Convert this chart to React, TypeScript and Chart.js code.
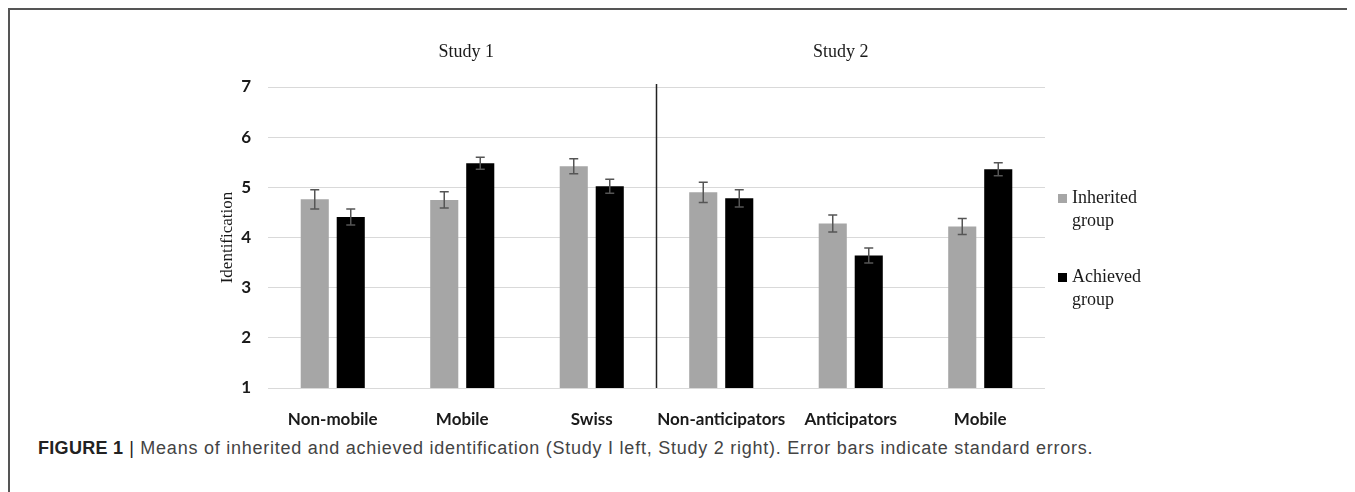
import { useEffect, useRef } from "react"
import { Chart, registerables } from "chart.js"

Chart.register(...registerables)

// Datos
const categories = ["Non-mobile", "Mobile", "Swiss", "Non-anticipators", "Anticipators", "Mobile"]
const inheritedMeans = [4.76, 4.75, 5.42, 4.9, 4.28, 4.22]
const inheritedErrors = [0.19, 0.16, 0.15, 0.2, 0.17, 0.16]
const achievedMeans = [4.41, 5.48, 5.02, 4.78, 3.64, 5.36]
const achievedErrors = [0.16, 0.12, 0.14, 0.17, 0.15, 0.13]
const studyTitles = ["Study 1", "Study 2"]
const seriesLabels = [["Inherited", "group"], ["Achieved", "group"]]
const seriesColors = ["#a6a6a6", "#000000"]
const yMin = 1
const yMax = 7

const serif = '"Liberation Serif", "Times New Roman", serif'
const tickFont = 'Lato, "Liberation Sans", Arial, sans-serif'

// Plugin para barras de error, línea divisoria, títulos y leyenda
const extrasPlugin = {
  id: "extras",
  afterDatasetsDraw(chart: any) {
    const { ctx, chartArea, scales } = chart
    const x = scales.x
    const y = scales.y
    const errors = [inheritedErrors, achievedErrors]

    ctx.save()
    ctx.strokeStyle = "#555555"
    ctx.lineWidth = 1.5
    chart.data.datasets.forEach((ds: any, di: number) => {
      const meta = chart.getDatasetMeta(di)
      meta.data.forEach((bar: any, i: number) => {
        const v = ds.data[i]
        const e = errors[di][i]
        const top = y.getPixelForValue(v + e)
        const bot = y.getPixelForValue(v - e)
        ctx.beginPath()
        ctx.moveTo(bar.x, top)
        ctx.lineTo(bar.x, bot)
        ctx.moveTo(bar.x - 4.5, top)
        ctx.lineTo(bar.x + 4.5, top)
        ctx.moveTo(bar.x - 4.5, bot)
        ctx.lineTo(bar.x + 4.5, bot)
        ctx.stroke()
      })
    })

    // línea entre los dos estudios
    const xd = (x.getPixelForTick(2) + x.getPixelForTick(3)) / 2
    ctx.strokeStyle = "#222222"
    ctx.lineWidth = 1.5
    ctx.beginPath()
    ctx.moveTo(xd, chartArea.top - 3)
    ctx.lineTo(xd, chartArea.bottom)
    ctx.stroke()

    // títulos de los estudios
    ctx.fillStyle = "#1a1a1a"
    ctx.font = `18px ${serif}`
    ctx.textAlign = "center"
    ctx.textBaseline = "middle"
    ctx.fillText(studyTitles[0], (chartArea.left + xd) / 2 + 4, chartArea.top - 35)
    ctx.fillText(studyTitles[1], (xd + chartArea.right) / 2 - 10, chartArea.top - 35)

    // título del eje Y
    ctx.save()
    ctx.translate(chartArea.left - 40, (chartArea.top + chartArea.bottom) / 2)
    ctx.rotate(-Math.PI / 2)
    ctx.font = `17px ${serif}`
    ctx.fillText("Identification", 0, 0)
    ctx.restore()

    // leyenda
    ctx.textAlign = "left"
    ctx.font = `18px ${serif}`
    const legendTops = [chartArea.top + 111, chartArea.top + 190]
    seriesLabels.forEach((lines, i) => {
      const ly = legendTops[i]
      ctx.fillStyle = seriesColors[i]
      ctx.fillRect(chartArea.right + 13, ly - 4, 9, 9)
      ctx.fillStyle = "#1a1a1a"
      lines.forEach((t, j) => ctx.fillText(t, chartArea.right + 27, ly + j * 23))
    })
    ctx.restore()
  },
}

function BarChart() {
  const chartRef = useRef<HTMLCanvasElement>(null)
  const chartInstance = useRef<Chart | null>(null)

  useEffect(() => {
    if (!chartRef.current) return
    if (chartInstance.current) {
      chartInstance.current.destroy()
    }
    const ctx = chartRef.current.getContext("2d")
    if (!ctx) return

    chartInstance.current = new Chart(ctx, {
      type: "bar",
      data: {
        labels: categories,
        datasets: [
          {
            label: "Inherited group",
            data: inheritedMeans,
            backgroundColor: seriesColors[0],
            categoryPercentage: 0.556,
            barPercentage: 0.78,
          },
          {
            label: "Achieved group",
            data: achievedMeans,
            backgroundColor: seriesColors[1],
            categoryPercentage: 0.556,
            barPercentage: 0.78,
          },
        ],
      },
      options: {
        animation: false,
        responsive: true,
        maintainAspectRatio: false,
        layout: { padding: { top: 79, right: 310, left: 0, bottom: 0 } },
        scales: {
          x: {
            grid: { display: false },
            border: { display: false },
            ticks: {
              color: "#1a1a1a",
              padding: 13,
              autoSkip: false,
              maxRotation: 0,
              minRotation: 0,
              font: { family: tickFont, size: 17, weight: "bold" },
            },
            afterFit: (scale: any) => {
              scale.height = 40
            },
          },
          y: {
            min: yMin,
            max: yMax,
            grid: { color: "#d9d9d9", lineWidth: 1, drawTicks: false },
            border: { display: false },
            ticks: {
              stepSize: 1,
              color: "#1a1a1a",
              padding: 17,
              font: { family: tickFont, size: 17, weight: "bold" },
            },
            afterFit: (scale: any) => {
              scale.width = 260
            },
          },
        },
        plugins: {
          legend: { display: false },
          tooltip: { enabled: false },
        },
      },
      plugins: [extrasPlugin],
    })

    return () => {
      if (chartInstance.current) {
        chartInstance.current.destroy()
        chartInstance.current = null
      }
    }
  }, [])

  return <canvas ref={chartRef} />
}

export default function App() {
  return (
    <div style={{ position: "relative", width: 1347, height: 484, background: "#fff" }}>
      <div style={{ position: "absolute", left: 0, top: 0, width: 1347, height: 1.5, background: "#555" }} />
      <div style={{ position: "absolute", left: 0, top: 0, width: 1.5, height: 484, background: "#555" }} />
      <div style={{ position: "absolute", left: 0, top: 0, width: 1347, height: 420 }}>
        <BarChart />
      </div>
      <div
        style={{
          position: "absolute",
          left: 30,
          top: 430,
          fontFamily: '"Liberation Sans", Arial, sans-serif',
          fontSize: 18,
          letterSpacing: 0.75,
          color: "#444",
          whiteSpace: "nowrap",
        }}
      >
        <span style={{ fontWeight: "bold", color: "#222", letterSpacing: 0.3 }}>FIGURE 1</span>
        <span style={{ color: "#222" }}> | </span>
        Means of inherited and achieved identification (Study I left, Study 2 right). Error bars indicate standard errors.
      </div>
    </div>
  )
}
